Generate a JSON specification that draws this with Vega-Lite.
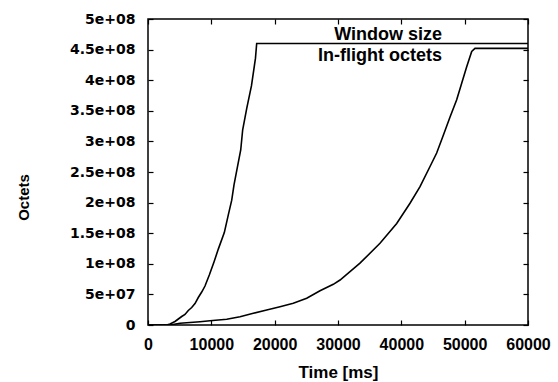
{
  "$schema": "https://vega.github.io/schema/vega-lite/v6.json",
  "width": 380,
  "height": 306,
  "autosize": {"type": "none"},
  "padding": {"left": 148, "top": 19, "right": 30, "bottom": 57},
  "background": "white",
  "data": {
    "values": [
      {"t": 0, "v": 0, "s": "Window size"},
      {"t": 2950, "v": 0, "s": "Window size"},
      {"t": 3470, "v": 1600000, "s": "Window size"},
      {"t": 4260, "v": 5700000, "s": "Window size"},
      {"t": 4790, "v": 9800000, "s": "Window size"},
      {"t": 5320, "v": 13900000, "s": "Window size"},
      {"t": 5840, "v": 17200000, "s": "Window size"},
      {"t": 6360, "v": 23700000, "s": "Window size"},
      {"t": 6900, "v": 28600000, "s": "Window size"},
      {"t": 7420, "v": 35100000, "s": "Window size"},
      {"t": 7940, "v": 44900000, "s": "Window size"},
      {"t": 8480, "v": 53900000, "s": "Window size"},
      {"t": 9000, "v": 63700000, "s": "Window size"},
      {"t": 9680, "v": 81700000, "s": "Window size"},
      {"t": 10420, "v": 103000000, "s": "Window size"},
      {"t": 11100, "v": 124000000, "s": "Window size"},
      {"t": 12050, "v": 151000000, "s": "Window size"},
      {"t": 12680, "v": 180000000, "s": "Window size"},
      {"t": 13220, "v": 204000000, "s": "Window size"},
      {"t": 13580, "v": 229000000, "s": "Window size"},
      {"t": 14100, "v": 257000000, "s": "Window size"},
      {"t": 14640, "v": 286000000, "s": "Window size"},
      {"t": 14950, "v": 319000000, "s": "Window size"},
      {"t": 15590, "v": 354000000, "s": "Window size"},
      {"t": 16340, "v": 391000000, "s": "Window size"},
      {"t": 16970, "v": 436000000, "s": "Window size"},
      {"t": 17160, "v": 460000000, "s": "Window size"},
      {"t": 60000, "v": 460000000, "s": "Window size"},
      {"t": 0, "v": 0, "s": "In-flight octets"},
      {"t": 3470, "v": 0, "s": "In-flight octets"},
      {"t": 5050, "v": 2800000, "s": "In-flight octets"},
      {"t": 8210, "v": 5400000, "s": "In-flight octets"},
      {"t": 9790, "v": 7000000, "s": "In-flight octets"},
      {"t": 12430, "v": 9300000, "s": "In-flight octets"},
      {"t": 14530, "v": 13600000, "s": "In-flight octets"},
      {"t": 16630, "v": 19100000, "s": "In-flight octets"},
      {"t": 18740, "v": 24500000, "s": "In-flight octets"},
      {"t": 20840, "v": 29900000, "s": "In-flight octets"},
      {"t": 22940, "v": 35400000, "s": "In-flight octets"},
      {"t": 25060, "v": 43600000, "s": "In-flight octets"},
      {"t": 27160, "v": 56000000, "s": "In-flight octets"},
      {"t": 29260, "v": 66500000, "s": "In-flight octets"},
      {"t": 30320, "v": 73500000, "s": "In-flight octets"},
      {"t": 33470, "v": 101000000, "s": "In-flight octets"},
      {"t": 36630, "v": 133500000, "s": "In-flight octets"},
      {"t": 39270, "v": 166000000, "s": "In-flight octets"},
      {"t": 41370, "v": 199000000, "s": "In-flight octets"},
      {"t": 42950, "v": 226000000, "s": "In-flight octets"},
      {"t": 44530, "v": 259000000, "s": "In-flight octets"},
      {"t": 45580, "v": 281000000, "s": "In-flight octets"},
      {"t": 46630, "v": 310000000, "s": "In-flight octets"},
      {"t": 47690, "v": 340000000, "s": "In-flight octets"},
      {"t": 48740, "v": 368000000, "s": "In-flight octets"},
      {"t": 49530, "v": 395000000, "s": "In-flight octets"},
      {"t": 50320, "v": 422000000, "s": "In-flight octets"},
      {"t": 51110, "v": 447000000, "s": "In-flight octets"},
      {"t": 51630, "v": 452000000, "s": "In-flight octets"},
      {"t": 60000, "v": 452000000, "s": "In-flight octets"}
    ]
  },
  "layer": [
    {
      "transform": [{"filter": "datum.s === 'Window size'"}],
      "mark": {"type": "line", "strokeWidth": 1.6, "clip": true},
      "encoding": {
        "x": {
          "field": "t", "type": "quantitative",
          "scale": {"domain": [0, 60000], "nice": false, "zero": false},
          "axis": {
            "orient": "bottom",
            "values": [0, 10000, 20000, 30000, 40000, 50000, 60000],
            "format": "d",
            "labelFlush": false,
            "labelFont": "Liberation Sans", "labelFontWeight": "bold", "labelFontSize": 16,
            "labelPadding": 16,
            "title": "Time [ms]",
            "titleFont": "Liberation Sans", "titleFontWeight": "bold", "titleFontSize": 17,
            "titleColor": "black",
            "titleY": 47, "titleBaseline": "middle"
          }
        },
        "y": {
          "field": "v", "type": "quantitative",
          "scale": {"domain": [0, 500000000], "nice": false},
          "axis": {
            "orient": "left",
            "values": [0, 50000000, 100000000, 150000000, 200000000, 250000000, 300000000, 350000000, 400000000, 450000000, 500000000],
            "labelExpr": "datum.value == 0 ? '0' : replace(format(datum.value, '~e'), 'e+', 'e+0')",
            "labelFlush": false,
            "labelFont": "DejaVu Sans", "labelFontWeight": "bold", "labelFontSize": 14,
            "labelPadding": 18,
            "title": "Octets",
            "titleFont": "Liberation Sans", "titleFontWeight": "bold", "titleFontSize": 15,
            "titleColor": "black",
            "titleX": -125, "titleY": 178, "titleBaseline": "middle"
          }
        },
        "color": {
          "field": "s", "type": "nominal",
          "scale": {"domain": ["Window size", "In-flight octets"], "range": ["black", "black"]},
          "legend": {
            "title": null, "orient": "none", "legendX": 276, "legendY": 7,
            "labelAlign": "right", "labelFont": "Liberation Sans", "labelFontWeight": "bold",
            "labelFontSize": 18, "labelOffset": 0, "symbolSize": 0, "symbolStrokeWidth": 0,
            "rowPadding": 3, "padding": 0
          }
        }
      }
    },
    {
      "transform": [{"filter": "datum.s === 'In-flight octets'"}],
      "mark": {"type": "line", "strokeWidth": 1.6, "clip": true},
      "encoding": {
        "x": {
          "field": "t", "type": "quantitative",
          "axis": {
            "orient": "top", "values": [0, 10000, 20000, 30000, 40000, 50000, 60000],
            "labels": false, "title": null
          }
        },
        "y": {
          "field": "v", "type": "quantitative",
          "axis": {
            "orient": "right",
            "values": [0, 50000000, 100000000, 150000000, 200000000, 250000000, 300000000, 350000000, 400000000, 450000000, 500000000],
            "labels": false, "title": null
          }
        },
        "color": {
          "field": "s", "type": "nominal",
          "legend": {
            "title": null, "orient": "none", "legendX": 276, "legendY": 7,
            "labelAlign": "right", "labelFont": "Liberation Sans", "labelFontWeight": "bold",
            "labelFontSize": 18, "labelOffset": 0, "symbolSize": 0, "symbolStrokeWidth": 0,
            "rowPadding": 3, "padding": 0
          }
        }
      }
    }
  ],
  "resolve": {"axis": {"x": "independent", "y": "independent"}},
  "config": {
    "view": {"stroke": "black", "strokeWidth": 1.5},
    "axis": {
      "domain": false, "grid": false,
      "tickColor": "black", "tickSize": -5, "tickWidth": 1.2,
      "labelColor": "black", "titleColor": "black"
    },
    "legend": {"labelColor": "black"}
  }
}
